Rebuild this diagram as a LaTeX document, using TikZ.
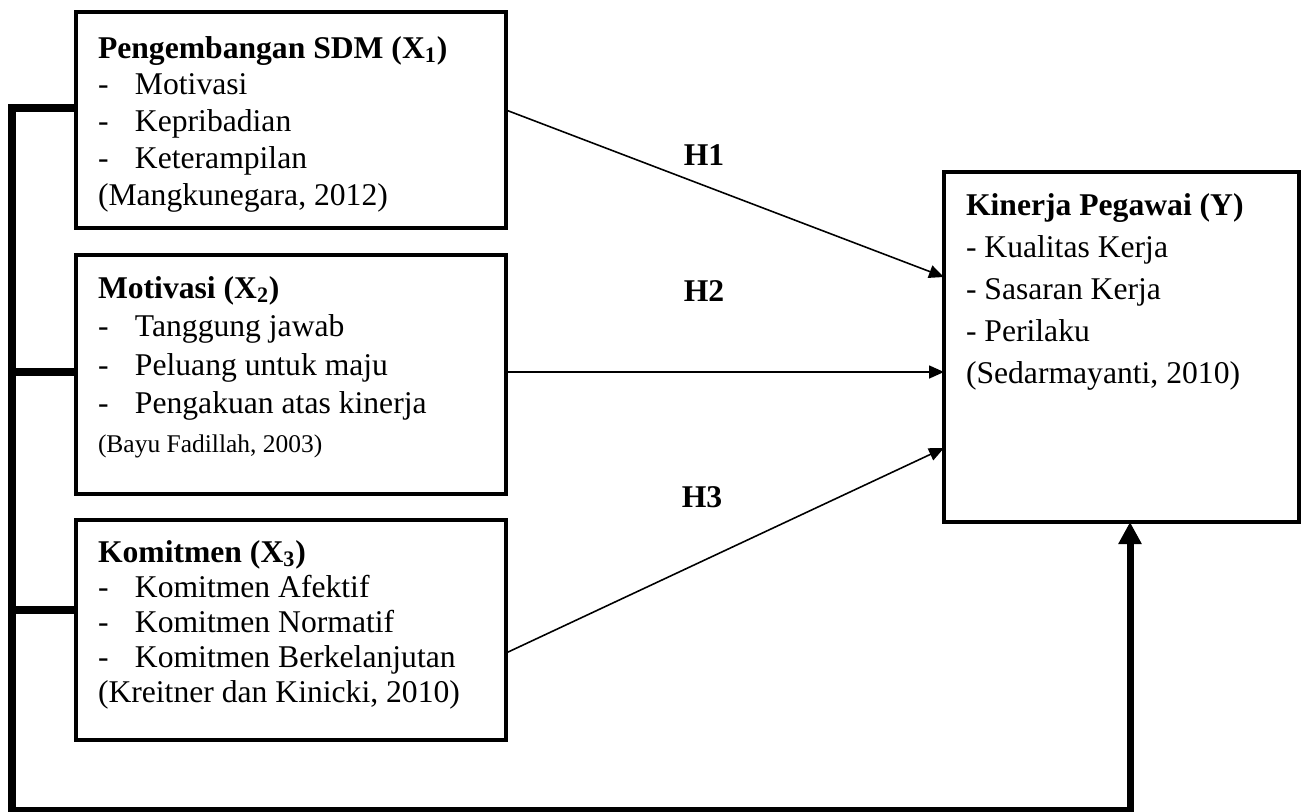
\documentclass[tikz,border=0pt]{standalone}
\usepackage{fontspec}
\setmainfont{Liberation Serif}
\usetikzlibrary{arrows.meta,positioning}

\newcommand{\dashitem}[1]{\makebox[0.74cm][l]{-}#1}

\begin{document}
\begin{tikzpicture}[
                    varbox/.style={draw, rectangle, line width=2.4pt, anchor=north west,
                        inner xsep=0.44cm, inner ysep=0pt, outer sep=0pt, align=flush left},
                    hyp/.style={-{Triangle[length=0.3cm,width=0.26cm]}, line width=0.9pt},
                    bus/.style={line width=4pt, line join=miter},
                    hyplabel/.style={font=\fontsize{18}{21}\selectfont\bfseries}
                ]
                \useasboundingbox (0,0) rectangle (26.1,-16.22);

                \node[varbox, text width=7.72cm, text height=0.92cm, text depth=3.40cm,
                    font=\fontsize{18}{21}\selectfont] (var-x1) at (1.52,-0.24) {
                    \textbf{Pengembangan SDM (X\textsubscript{1})}\\
                    \dashitem{Motivasi}\\
                    \dashitem{Kepribadian}\\
                    \dashitem{Keterampilan}\\
                    (Mangkunegara, 2012)};
                \node[varbox, text width=7.72cm, text height=0.86cm, text depth=3.92cm,
                    font=\fontsize{18}{22}\selectfont,
                    below right=0.54cm and 0cm of var-x1.south west] (var-x2) {
                    \textbf{Motivasi (X\textsubscript{2})}\\
                    \dashitem{Tanggung jawab}\\
                    \dashitem{Peluang untuk maju}\\
                    \dashitem{Pengakuan atas kinerja}\\
                    {\fontsize{14.5}{22}\selectfont (Bayu Fadillah, 2003)}};
                \node[varbox, text width=7.72cm, text height=0.84cm, text depth=3.56cm,
                    font=\fontsize{18}{20}\selectfont,
                    below right=0.52cm and 0cm of var-x2.south west] (var-x3) {
                    \textbf{Komitmen (X\textsubscript{3})}\\
                    \dashitem{Komitmen Afektif}\\
                    \dashitem{Komitmen Normatif}\\
                    \dashitem{Komitmen Berkelanjutan}\\
                    (Kreitner dan Kinicki, 2010)};
                \node[varbox, text width=6.22cm, text height=0.86cm, text depth=6.14cm,
                    font=\fontsize{18}{24}\selectfont] (var-y) at (18.88,-3.44) {
                    \textbf{Kinerja Pegawai (Y)}\\
                    - Kualitas Kerja\\
                    - Sasaran Kerja\\
                    - Perilaku\\
                    (Sedarmayanti, 2010)};

                \node[hyplabel] (hyp-1) at (14.08,-3.10) {H1};
                \node[hyplabel] (hyp-2) at (14.08,-5.82) {H2};
                \node[hyplabel] (hyp-3) at (14.04,-9.94) {H3};

                % hypotheses
                \draw[hyp] ([yshift=0.20cm]var-x1.east) -- ([yshift=-2.10cm]var-y.north west);
                \draw[hyp] ([yshift=0.05cm]var-x2.east) -- ([yshift=0.05cm]var-x2.east -| var-y.west);
                \draw[hyp] ([yshift=-0.46cm]var-x3.east) -- ([yshift=-5.52cm]var-y.north west);

                % simultaneous effect
                \coordinate (bus-bottom) at (0.24,-16.21);
                \coordinate (bus-end) at (22.60,-16.21);
                \draw[bus, -{Triangle[length=0.44cm,width=0.44cm]}]
                    ([yshift=0.24cm]var-x1.west) -| (bus-bottom) -- (bus-end) -- (bus-end |- var-y.south);
                \draw[bus] ([yshift=0.05cm]var-x2.west) -- ([yshift=0.05cm]var-x2.west -| bus-bottom);
                \draw[bus] ([yshift=0.40cm]var-x3.west) -- ([yshift=0.40cm]var-x3.west -| bus-bottom);
            \end{tikzpicture}
\end{document}
